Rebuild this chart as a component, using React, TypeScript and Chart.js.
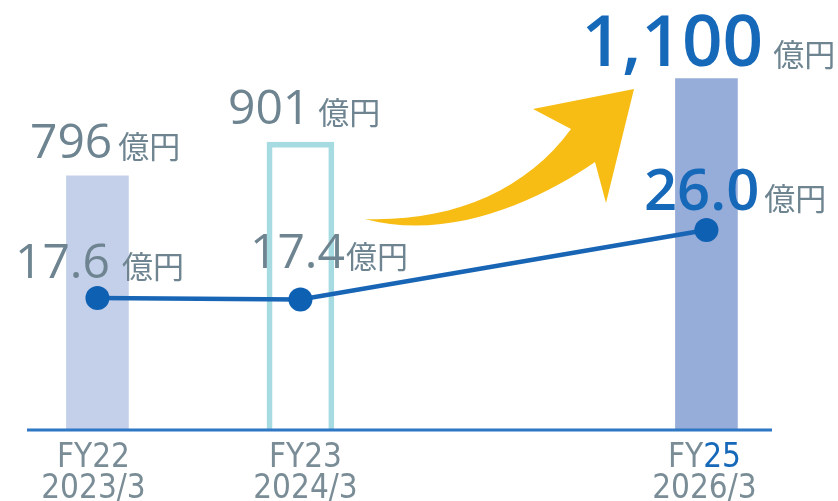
import React, { useEffect, useRef } from 'react';
import { Chart, registerables } from 'chart.js';

Chart.register(...registerables);

// ---- data ----
const fiscalYears = [22, 23, 25];
const yearLabels = ['FY22', 'FY23', 'FY25'];
const periodLabels = ['2023/3', '2024/3', '2026/3'];
const revenue = [796, 901, 1100]; // 億円
const revenueText = ['796', '901', '1,100'];
const profit = [17.6, 17.4, 26.0]; // 億円
const profitText = ['17.6', '17.4', '26.0'];
const barKinds = ['actual', 'outline', 'target'];
const unit = '億円';

// ---- styles ----
const GRAY = '#6e8591';
const BLUE = '#1668b9';
const LABEL_GRAY = '#7a8d97';
const barFill: Record<string, string> = { actual: '#c4cfe9', target: '#96acd9' };
const OUTLINE = '#a6dbe2';
const LINE = '#1865b6';
const DOT = '#0e60b2';
const ARROW = '#f7bd15';
const AXIS = '#2d77c5';
const UNIT_FONT = '400 31px "Noto Sans CJK JP"';
const labelShift = [-4, 5, -2];

const revStyle = [
  { dx: -67.5, dy: -18, font: '400 48px "Open Sans"', color: GRAY, gap: 6 },
  { dx: -72.5, dy: -18, font: '400 48px "Open Sans"', color: GRAY, gap: 8 },
  { dx: -125, dy: -13, font: '600 71px "Open Sans"', color: BLUE, gap: 10 },
];
const profStyle = [
  { dx: -82.5, dy: -20, font: '400 48px "Open Sans"', color: GRAY, gap: 12 },
  { dx: -50.5, dy: -32, font: '400 48px "Open Sans"', color: GRAY, gap: 1 },
  { dx: -62.5, dy: -20, font: '600 58px "Open Sans"', color: BLUE, gap: 5 },
];

function drawParts(ctx: CanvasRenderingContext2D, x: number, y: number, parts: { text: string; font: string; color: string; gap?: number }[]) {
  let cx = x;
  for (const p of parts) {
    cx += p.gap || 0;
    ctx.font = p.font;
    ctx.fillStyle = p.color;
    ctx.textAlign = 'left';
    ctx.textBaseline = 'alphabetic';
    ctx.fillText(p.text, cx, y);
    cx += ctx.measureText(p.text).width;
  }
}

const decorPlugin = {
  id: 'decor',
  afterDatasetsDraw(chart: any) {
    const ctx: CanvasRenderingContext2D = chart.ctx;
    const xs = chart.scales.x;
    const yb = chart.scales.y;
    const yl = chart.scales.y2;
    const area = chart.chartArea;
    ctx.save();

    // baseline
    ctx.strokeStyle = AXIS;
    ctx.lineWidth = 3;
    ctx.beginPath();
    ctx.moveTo(area.left, area.bottom);
    ctx.lineTo(area.right, area.bottom);
    ctx.stroke();

    // arrow
    ctx.fillStyle = ARROW;
    ctx.beginPath();
    ctx.moveTo(365, 219);
    ctx.bezierCurveTo(450, 222, 525, 192, 571, 129);
    ctx.lineTo(533, 109);
    ctx.lineTo(634, 89);
    ctx.lineTo(606, 203);
    ctx.lineTo(595, 162);
    ctx.bezierCurveTo(540, 200, 450, 242, 365, 219);
    ctx.closePath();
    ctx.fill();

    // value labels
    fiscalYears.forEach((fy, i) => {
      const px = xs.getPixelForValue(fy);
      const s = revStyle[i];
      drawParts(ctx, px + s.dx, yb.getPixelForValue(revenue[i]) + s.dy, [
        { text: revenueText[i], font: s.font, color: s.color },
        { text: unit, font: UNIT_FONT, color: GRAY, gap: s.gap },
      ]);
      const t = profStyle[i];
      drawParts(ctx, px + t.dx, yl.getPixelForValue(profit[i]) + t.dy, [
        { text: profitText[i], font: t.font, color: t.color },
        { text: unit, font: UNIT_FONT, color: GRAY, gap: t.gap },
      ]);
    });

    // x labels
    const lblFont = '400 33px "DejaVu Sans Condensed", "DejaVu Sans"';
    fiscalYears.forEach((fy, i) => {
      const px = xs.getPixelForValue(fy) + labelShift[i];
      ctx.font = lblFont;
      ctx.textBaseline = 'alphabetic';
      ctx.textAlign = 'left';
      const label = yearLabels[i];
      const w1 = ctx.measureText(label).width;
      const prefix = 'FY';
      const wp = ctx.measureText(prefix).width;
      ctx.fillStyle = LABEL_GRAY;
      ctx.fillText(prefix, px - w1 / 2, area.bottom + 37);
      ctx.fillStyle = barKinds[i] === 'target' ? BLUE : LABEL_GRAY;
      ctx.fillText(label.slice(2), px - w1 / 2 + wp, area.bottom + 37);

      ctx.fillStyle = LABEL_GRAY;
      ctx.textAlign = 'center';
      ctx.fillText(periodLabels[i], px, area.bottom + 68);
    });

    ctx.restore();
  },
};

export default function App() {
  const ref = useRef<HTMLCanvasElement | null>(null);
  useEffect(() => {
    if (!ref.current) return;
    const filledIdx = fiscalYears.map((_, i) => i).filter((i) => barKinds[i] !== 'outline');
    const outlineIdx = fiscalYears.map((_, i) => i).filter((i) => barKinds[i] === 'outline');
    const chart = new Chart(ref.current, {
      type: 'bar',
      data: {
        datasets: [
          {
            type: 'line',
            data: fiscalYears.map((x, i) => ({ x, y: profit[i] })),
            yAxisID: 'y2',
            borderColor: LINE,
            borderWidth: 4.5,
            pointRadius: 12,
            pointBackgroundColor: DOT,
            pointBorderWidth: 0,
            tension: 0,
            order: 0,
            clip: false,
          } as any,
          {
            type: 'bar',
            data: filledIdx.map((i) => ({ x: fiscalYears[i], y: revenue[i] })),
            yAxisID: 'y',
            backgroundColor: filledIdx.map((i) => barFill[barKinds[i]]),
            borderWidth: 0,
            barThickness: 62,
            grouped: false,
            order: 2,
          } as any,
          {
            type: 'bar',
            data: outlineIdx.map((i) => ({ x: fiscalYears[i], y: revenue[i] })),
            yAxisID: 'y',
            backgroundColor: 'rgba(0,0,0,0)',
            borderColor: OUTLINE,
            borderWidth: 5,
            borderSkipped: 'start',
            barThickness: 67,
            grouped: false,
            order: 1,
          } as any,
        ],
      },
      options: {
        responsive: false,
        animation: false,
        layout: { autoPadding: false, padding: { left: 27, right: 66, top: 0, bottom: 71 } },
        plugins: { legend: { display: false }, tooltip: { enabled: false } },
        scales: {
          x: { type: 'linear', min: 21.653, max: 25.323, offset: false, display: false },
          y: { min: 0, max: 1346, display: false },
          y2: { min: 1.29, max: 54.41, display: false, position: 'right' },
        },
      } as any,
      plugins: [decorPlugin],
    });
    return () => chart.destroy();
  }, []);
  return (
    <div style={{ position: 'fixed', left: 0, top: 0, width: 838, height: 501, background: '#ffffff' }}>
      <canvas ref={ref} width={838} height={501} />
    </div>
  );
}
